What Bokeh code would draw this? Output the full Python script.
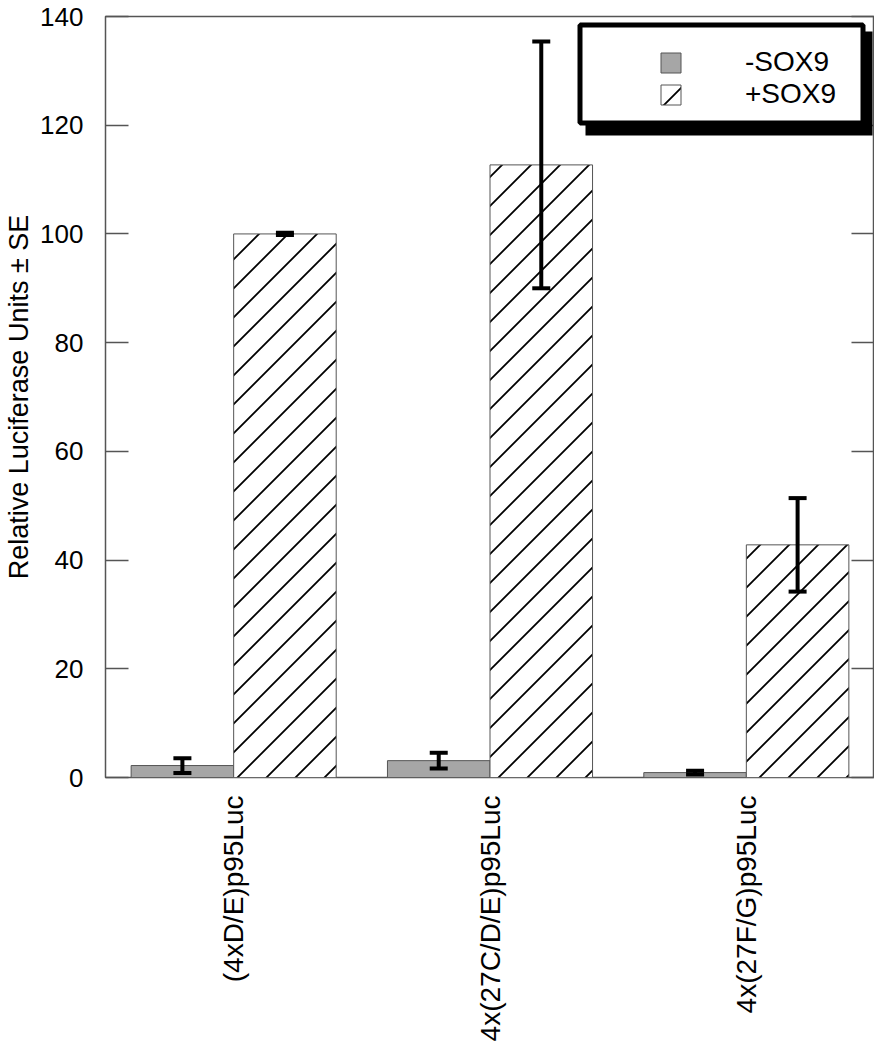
import math
import base64
from bokeh.plotting import figure
from bokeh.models import (ColumnDataSource, FactorRange, Range1d, FixedTicker, LinearAxis,
                          Whisker, TeeHead, Legend, LegendItem, BoxAnnotation,
                          CustomJSTickFormatter, ImageURLTexture)
from bokeh.core.properties import value
from bokeh.transform import dodge
from bokeh.embed import file_html
from bokeh.resources import INLINE

# ---- data ----
categories = ["(4xD/E)p95Luc", "4x(27C/D/E)p95Luc", "4x(27F/G)p95Luc"]
series_names = ["-SOX9", "+SOX9"]
minus_sox9 = [2.2, 3.1, 0.9]
minus_se = [1.35, 1.45, 0.35]
plus_sox9 = [100.0, 112.7, 42.8]
plus_se = [0.2, 22.7, 8.6]
y_ticks = [0, 20, 40, 60, 80, 100, 120, 140]
y_title = "Relative Luciferase Units \u00b1 SE"

FONT = "Liberation Sans"

src_m = ColumnDataSource(dict(
    cat=categories, val=minus_sox9,
    upper=[v + e for v, e in zip(minus_sox9, minus_se)],
    lower=[v - e for v, e in zip(minus_sox9, minus_se)]))
src_p = ColumnDataSource(dict(
    cat=categories, val=plus_sox9,
    upper=[v + e for v, e in zip(plus_sox9, plus_se)],
    lower=[v - e for v, e in zip(plus_sox9, plus_se)]))

p = figure(x_range=FactorRange(*categories, range_padding=0),
           y_range=Range1d(0, 140),
           frame_width=769, frame_height=761,
           min_border_left=105, min_border_top=16, min_border_right=0, min_border_bottom=20,
           output_backend="svg", toolbar_location=None,
           background_fill_color="white", border_fill_color="white")

p.xgrid.grid_line_color = None
p.ygrid.grid_line_color = None
p.outline_line_color = "#555555"
p.outline_line_width = 1.5

# 45-degree "/" hatch tile (29 px repeat)
tile_svg = ('<svg xmlns="http://www.w3.org/2000/svg" width="29" height="29" viewBox="0 0 29 29">'
            '<path d="M0,29L29,0M-3,3L3,-3M26,32L32,26" stroke="black" stroke-width="1.8" fill="none"/>'
            '</svg>')
tile_url = "data:image/svg+xml;base64," + base64.b64encode(tile_svg.encode()).decode()
diag = ImageURLTexture(url=tile_url)

# bars
r_m = p.vbar(x=dodge("cat", -0.2, range=p.x_range), top="val", width=0.4, source=src_m,
             fill_color="#a6a6a6", line_color="#555555", line_width=1)
r_p = p.vbar(x=dodge("cat", 0.2, range=p.x_range), top="val", width=0.4, source=src_p,
             fill_color="white", line_color="#555555", line_width=1,
             hatch_pattern=value("diag"), hatch_extra={"diag": diag})

# error bars
for src, off in ((src_m, -0.2), (src_p, 0.2)):
    w = Whisker(base=dodge("cat", off, range=p.x_range), upper="upper", lower="lower",
                source=src, line_color="black", line_width=4, level="annotation",
                upper_head=TeeHead(size=18, line_width=4, line_color="black"),
                lower_head=TeeHead(size=18, line_width=4, line_color="black"))
    p.add_layout(w)

# y axis (left)
ya = p.yaxis[0]
ya.ticker = FixedTicker(ticks=y_ticks)
ya.axis_label = y_title
ya.axis_label_text_font = FONT
ya.axis_label_text_font_style = "normal"
ya.axis_label_text_font_size = "27px"
ya.axis_label_text_color = "black"
ya.axis_label_standoff = 3
ya.major_label_text_font = FONT
ya.major_label_text_font_size = "26px"
ya.major_label_text_color = "black"
ya.major_label_standoff = 22
ya.major_tick_in = 23
ya.major_tick_out = 0
ya.major_tick_line_color = "#555555"
ya.major_tick_line_width = 1.5
ya.minor_tick_line_color = None
ya.axis_line_color = None

# right axis: inward ticks only, no labels
ra = LinearAxis(ticker=FixedTicker(ticks=y_ticks),
                formatter=CustomJSTickFormatter(code="return ''"))
ra.major_tick_in = 23
ra.major_tick_out = 0
ra.major_tick_line_color = "#555555"
ra.major_tick_line_width = 1.5
ra.minor_tick_line_color = None
ra.axis_line_color = None
ra.major_label_standoff = 0
p.add_layout(ra, "right")

# x axis
xa = p.xaxis[0]
xa.major_label_orientation = math.pi / 2
xa.major_label_text_font = FONT
xa.major_label_text_font_size = "28px"
xa.major_label_text_color = "black"
xa.major_label_standoff = 12
xa.major_tick_line_color = None
xa.minor_tick_line_color = None
xa.axis_line_color = None

# legend frame with drop shadow
shadow = BoxAnnotation(left=480, right=767, top=746, bottom=642,
                       left_units="screen", right_units="screen",
                       top_units="screen", bottom_units="screen",
                       fill_color="black", fill_alpha=1, line_color=None)
box = BoxAnnotation(left=474.5, right=757.5, top=752.5, bottom=654.5,
                    left_units="screen", right_units="screen",
                    top_units="screen", bottom_units="screen",
                    fill_color="white", fill_alpha=1,
                    line_color="black", line_alpha=1, line_width=5)
p.add_layout(shadow)
p.add_layout(box)

legend = Legend(items=[LegendItem(label=series_names[0], renderers=[r_m]),
                       LegendItem(label=series_names[1], renderers=[r_p])],
                location="top_right", margin=30, padding=0, spacing=0,
                glyph_width=25, glyph_height=25, label_standoff=62, label_width=99,
                border_line_color=None, background_fill_alpha=0,
                label_text_font=FONT, label_text_font_size="28px", label_text_color="black")
p.add_layout(legend)

open("out.html", "w").write(file_html(p, INLINE))
